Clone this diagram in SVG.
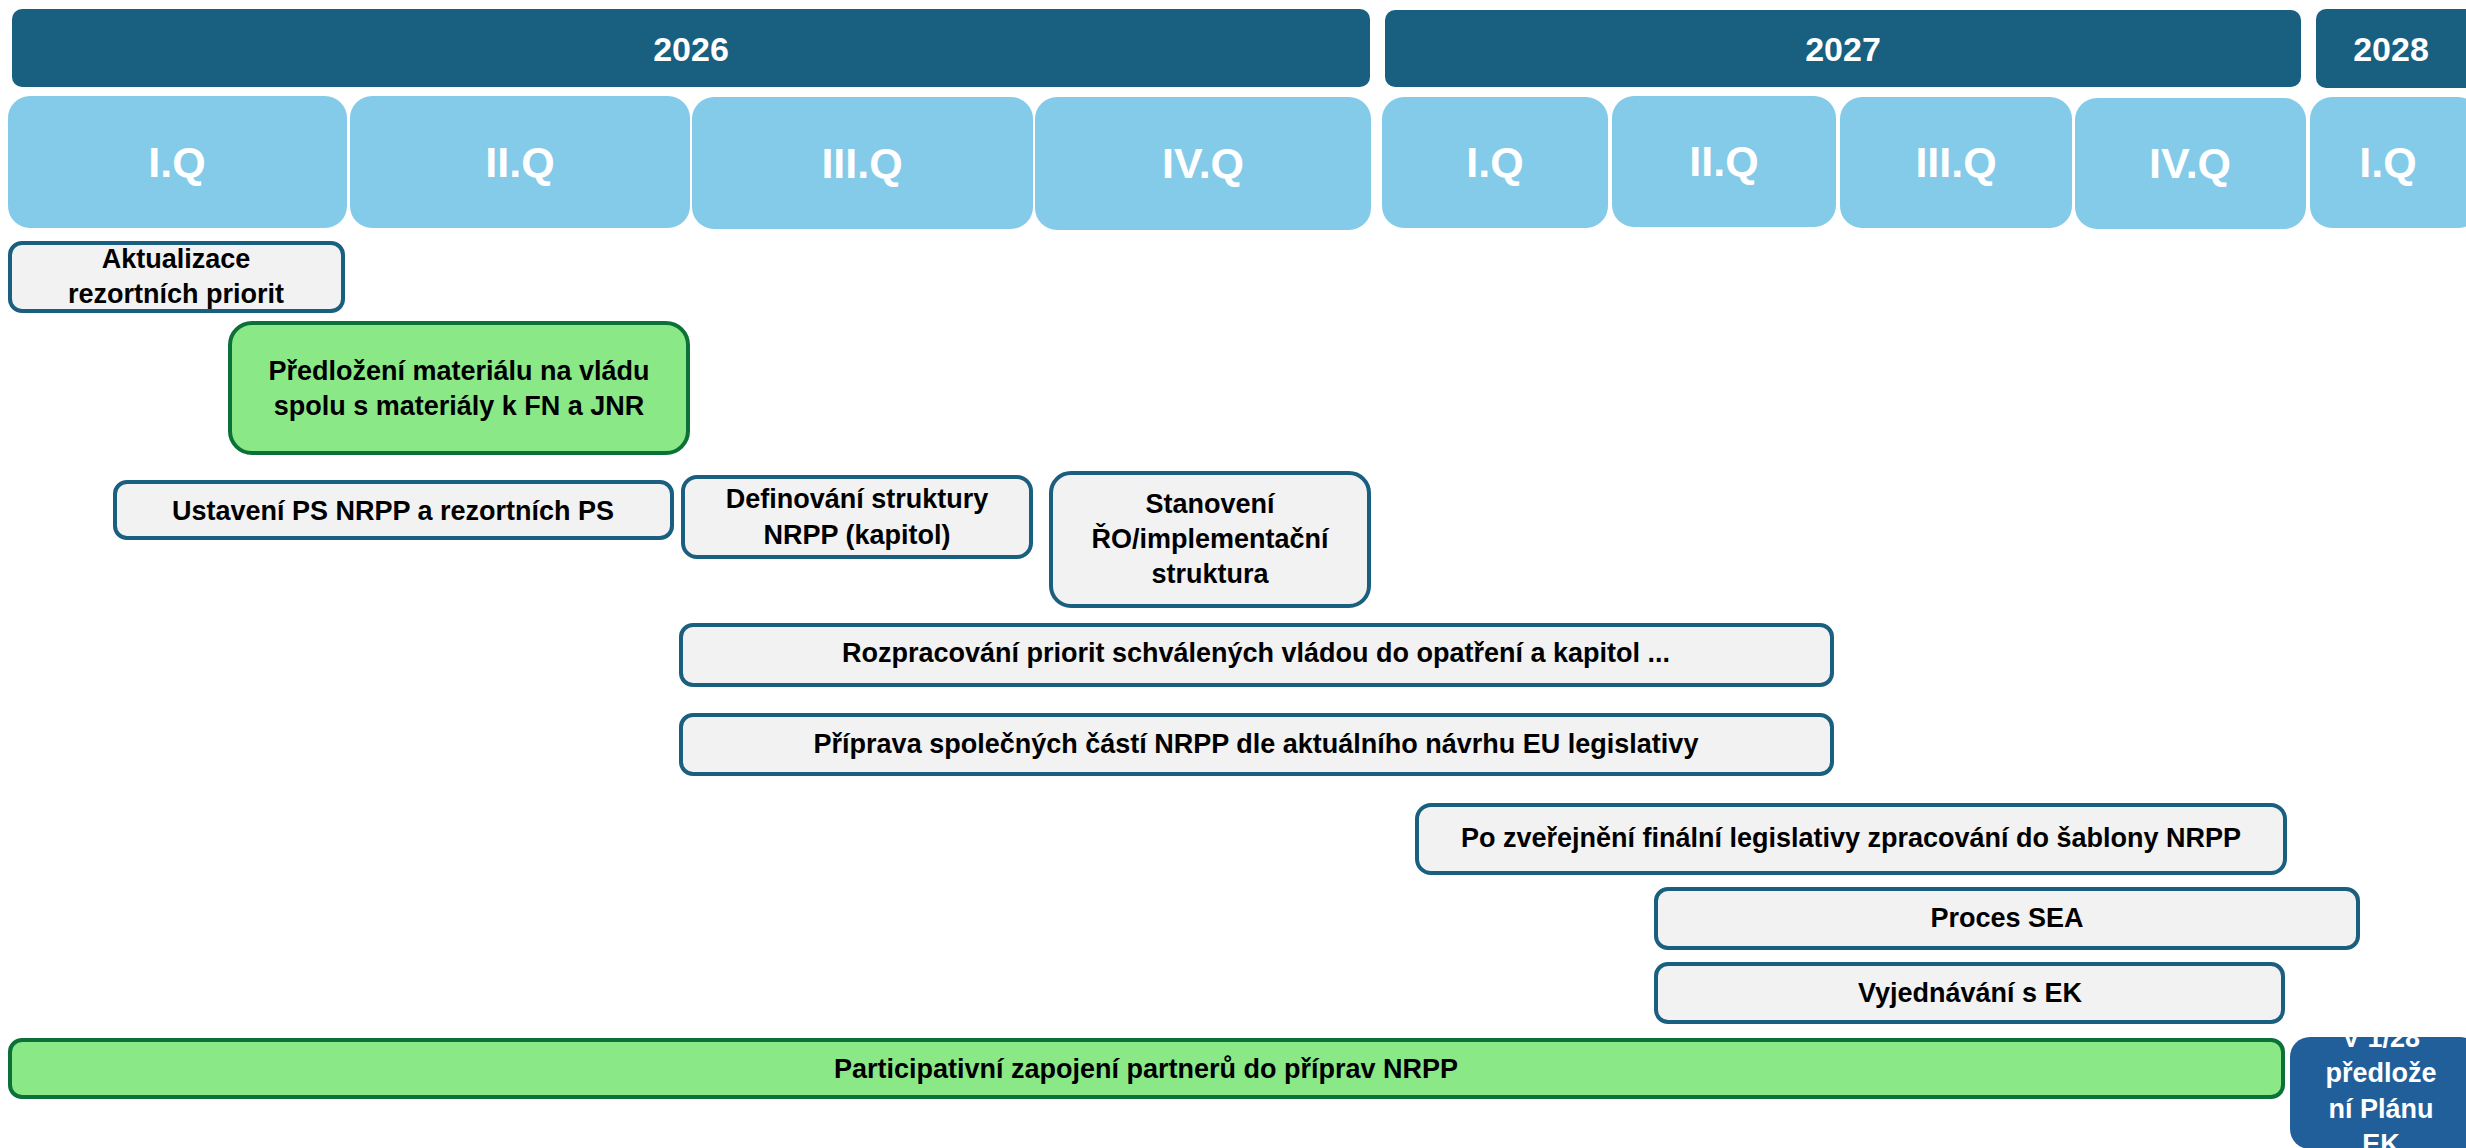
<svg xmlns="http://www.w3.org/2000/svg" width="2466" height="1148" viewBox="0 0 2466 1148">
<defs>
<style>
.year{fill:#185F80;}
.yt{font-family:"Liberation Sans",Arial,sans-serif;font-weight:bold;font-size:34px;fill:#ffffff;text-anchor:middle;}
.q{fill:#84CBEA;}
.qt{font-family:"Liberation Sans",Arial,sans-serif;font-weight:bold;font-size:43px;fill:#ffffff;text-anchor:middle;}
.g{fill:#F2F2F2;stroke:#1B5F80;stroke-width:4;}
.gr{fill:#8BE886;stroke:#0B7139;stroke-width:4;}
.t{font-family:"Liberation Sans",Arial,sans-serif;font-weight:bold;font-size:27px;fill:#000000;text-anchor:middle;}
.fin{fill:#215F9A;}
.ft{font-family:"Liberation Sans",Arial,sans-serif;font-weight:bold;font-size:27px;fill:#ffffff;text-anchor:middle;}
</style>
<clipPath id="finclip"><rect x="2290" y="1037" width="190" height="112" rx="20"/></clipPath>
</defs>
<rect x="0" y="0" width="2466" height="1148" fill="#ffffff"/>

<g id="years">
<g id="y2026"><rect class="year" x="12" y="9" width="1358" height="78" rx="10"/><text class="yt" x="691" y="61">2026</text></g>
<g id="y2027"><rect class="year" x="1385" y="10" width="916" height="77" rx="10"/><text class="yt" x="1843" y="61">2027</text></g>
<g id="y2028"><rect class="year" x="2316" y="9" width="160" height="79" rx="10"/><text class="yt" x="2391" y="61">2028</text></g>
</g>

<g id="quarters">
<g id="q2026-1"><rect class="q" x="8" y="96" width="339" height="132" rx="22"/><text class="qt" x="177" y="177">I.Q</text></g>
<g id="q2026-2"><rect class="q" x="350" y="96" width="340" height="132" rx="22"/><text class="qt" x="520" y="177">II.Q</text></g>
<g id="q2026-3"><rect class="q" x="692" y="97" width="341" height="132" rx="22"/><text class="qt" x="862" y="178">III.Q</text></g>
<g id="q2026-4"><rect class="q" x="1035" y="97" width="336" height="133" rx="22"/><text class="qt" x="1203" y="178">IV.Q</text></g>
<g id="q2027-1"><rect class="q" x="1382" y="97" width="226" height="131" rx="22"/><text class="qt" x="1495" y="177">I.Q</text></g>
<g id="q2027-2"><rect class="q" x="1612" y="96" width="224" height="131" rx="22"/><text class="qt" x="1724" y="176">II.Q</text></g>
<g id="q2027-3"><rect class="q" x="1840" y="97" width="232" height="131" rx="22"/><text class="qt" x="1956" y="177">III.Q</text></g>
<g id="q2027-4"><rect class="q" x="2075" y="98" width="231" height="131" rx="22"/><text class="qt" x="2190" y="178">IV.Q</text></g>
<g id="q2028-1"><rect class="q" x="2310" y="97" width="170" height="131" rx="22"/><text class="qt" x="2388" y="177">I.Q</text></g>
</g>

<g id="connectors"></g>

<g id="aktualizace"><rect class="g" x="10" y="243" width="333" height="68" rx="12"/><text class="t" x="176" y="268">Aktualizace</text><text class="t" x="176" y="303">rezortních priorit</text></g>

<g id="predlozeni"><rect class="gr" x="230" y="323" width="458" height="130" rx="22"/><text class="t" x="459" y="380">Předložení materiálu na vládu</text><text class="t" x="459" y="415">spolu s materiály k FN a JNR</text></g>

<g id="ustaveni"><rect class="g" x="115" y="482" width="557" height="56" rx="12"/><text class="t" x="393" y="520">Ustavení PS NRPP a rezortních PS</text></g>

<g id="definovani"><rect class="g" x="683" y="477" width="348" height="80" rx="14"/><text class="t" x="857" y="508">Definování struktury</text><text class="t" x="857" y="544">NRPP (kapitol)</text></g>

<g id="stanoveni"><rect class="g" x="1051" y="473" width="318" height="133" rx="20"/><text class="t" x="1210" y="513">Stanovení</text><text class="t" x="1210" y="548">ŘO/implementační</text><text class="t" x="1210" y="583">struktura</text></g>

<g id="rozpracovani"><rect class="g" x="681" y="625" width="1151" height="60" rx="12"/><text class="t" x="1256" y="662">Rozpracování priorit schválených vládou do opatření a kapitol ...</text></g>

<g id="priprava"><rect class="g" x="681" y="715" width="1151" height="59" rx="12"/><text class="t" x="1256" y="753">Příprava společných částí NRPP dle aktuálního návrhu EU legislativy</text></g>

<g id="pozverejneni"><rect class="g" x="1417" y="805" width="868" height="68" rx="14"/><text class="t" x="1851" y="847">Po zveřejnění finální legislativy zpracování do šablony NRPP</text></g>

<g id="sea"><rect class="g" x="1656" y="889" width="702" height="59" rx="12"/><text class="t" x="2007" y="927">Proces SEA</text></g>

<g id="vyjednavani"><rect class="g" x="1656" y="964" width="627" height="58" rx="12"/><text class="t" x="1970" y="1002">Vyjednávání s EK</text></g>

<g id="participativni"><rect class="gr" x="10" y="1040" width="2273" height="57" rx="12"/><text class="t" x="1146" y="1078">Participativní zapojení partnerů do příprav NRPP</text></g>

<g id="predlozeniplanu"><rect class="fin" x="2290" y="1037" width="190" height="112" rx="20"/>
<g clip-path="url(#finclip)"><text class="ft" x="2381" y="1047">V 1/28</text><text class="ft" x="2381" y="1082">předlože</text><text class="ft" x="2381" y="1118">ní Plánu</text><text class="ft" x="2381" y="1153">EK</text></g></g>
</svg>
